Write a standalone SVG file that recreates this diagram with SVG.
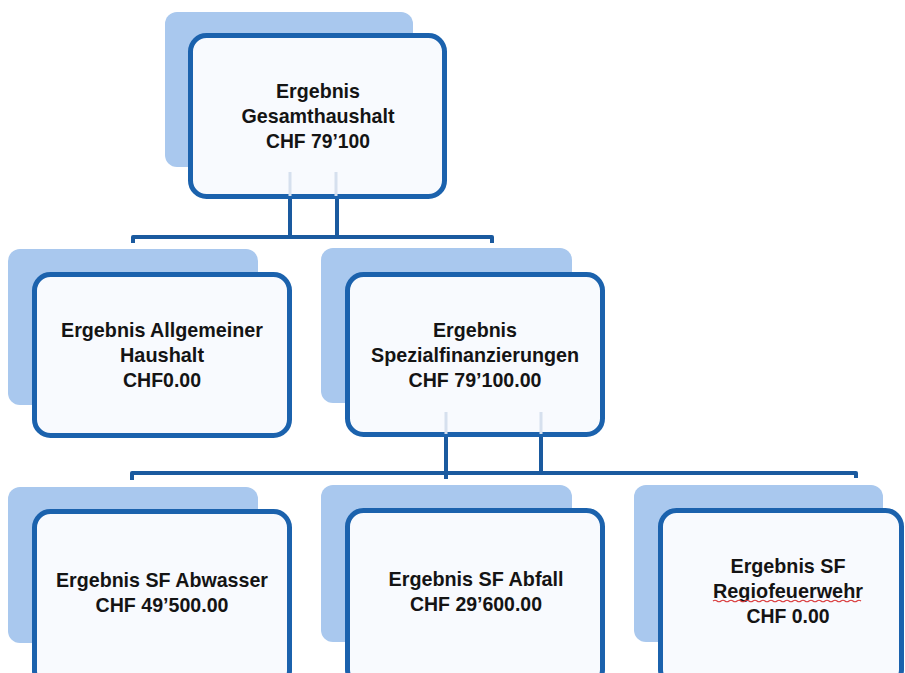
<svg xmlns="http://www.w3.org/2000/svg" width="905" height="673" viewBox="0 0 905 673">
<style>
.shadow{fill:#a9c8ee;}
.box{fill:#f8fafe;stroke:#1b62ad;stroke-width:5;}
.conn{fill:none;stroke:#1a5a9f;stroke-width:4;stroke-linejoin:round;}
.faint{stroke:#d6e0ee;stroke-width:3;}
text{font-family:"Liberation Sans",Arial,sans-serif;font-weight:bold;font-size:21px;fill:#141414;text-anchor:middle;}
</style>
<rect width="905" height="673" fill="#ffffff"/>
<g id="connectors">
<path class="conn" d="M290,199 V237 M337,199 V237 M133,243 V237 H492 V243"/>
<path class="conn" d="M446,437 V479 M541,437 V473 M132,480 V473 H856 V478"/>
</g>
<g id="n-gesamt">
<rect class="shadow" x="165" y="12" width="248" height="155" rx="12"/>
<rect class="box" x="190.5" y="35.5" width="254" height="161" rx="16"/>
<line class="faint" x1="290" y1="172" x2="290" y2="196"/>
<line class="faint" x1="336" y1="172" x2="336" y2="196"/>
<text x="318" y="98" textLength="84" lengthAdjust="spacingAndGlyphs">Ergebnis</text>
<text x="318" y="123" textLength="153" lengthAdjust="spacingAndGlyphs">Gesamthaushalt</text>
<text x="318" y="148" textLength="104" lengthAdjust="spacingAndGlyphs">CHF 79’100</text>
</g>
<g id="n-allgemein">
<rect class="shadow" x="8" y="249" width="250" height="156" rx="12"/>
<rect class="box" x="34.5" y="274.5" width="255" height="161" rx="16"/>
<text x="162" y="337" textLength="202" lengthAdjust="spacingAndGlyphs">Ergebnis Allgemeiner</text>
<text x="162" y="362" textLength="84" lengthAdjust="spacingAndGlyphs">Haushalt</text>
<text x="162" y="387" textLength="78" lengthAdjust="spacingAndGlyphs">CHF0.00</text>
</g>
<g id="n-spezial">
<rect class="shadow" x="321" y="248" width="251" height="155" rx="12"/>
<rect class="box" x="347.5" y="274.5" width="255" height="160" rx="16"/>
<line class="faint" x1="446" y1="412" x2="446" y2="434"/>
<line class="faint" x1="541" y1="412" x2="541" y2="434"/>
<text x="475" y="337" textLength="84" lengthAdjust="spacingAndGlyphs">Ergebnis</text>
<text x="475" y="362" textLength="208" lengthAdjust="spacingAndGlyphs">Spezialfinanzierungen</text>
<text x="475" y="387" textLength="133" lengthAdjust="spacingAndGlyphs">CHF 79’100.00</text>
</g>
<g id="n-abwasser">
<rect class="shadow" x="8" y="487" width="250" height="156" rx="12"/>
<rect class="box" x="34.5" y="511.5" width="255" height="175" rx="16"/>
<text x="162" y="587" textLength="212" lengthAdjust="spacingAndGlyphs">Ergebnis SF Abwasser</text>
<text x="162" y="612" textLength="133" lengthAdjust="spacingAndGlyphs">CHF 49’500.00</text>
</g>
<g id="n-abfall">
<rect class="shadow" x="321" y="485" width="251" height="157" rx="12"/>
<rect class="box" x="347.5" y="510.5" width="255" height="175" rx="16"/>
<text x="476" y="586" textLength="175" lengthAdjust="spacingAndGlyphs">Ergebnis SF Abfall</text>
<text x="476" y="611" textLength="132" lengthAdjust="spacingAndGlyphs">CHF 29’600.00</text>
</g>
<g id="n-regio">
<rect class="shadow" x="634" y="485" width="249" height="157" rx="12"/>
<rect class="box" x="660.5" y="510.5" width="241" height="175" rx="16"/>
<text x="788" y="573" textLength="115" lengthAdjust="spacingAndGlyphs">Ergebnis SF</text>
<text x="788" y="598" textLength="150" lengthAdjust="spacingAndGlyphs">Regiofeuerwehr</text>
<path d="M713,601 q2,-1.5 4,0 t4,0 t4,0 t4,0 t4,0 t4,0 t4,0 t4,0 t4,0 t4,0 t4,0 t4,0 t4,0 t4,0 t4,0 t4,0 t4,0 t4,0 t4,0 t4,0 t4,0 t4,0 t4,0 t4,0 t4,0 t4,0 t4,0 t4,0 t4,0 t4,0 t4,0 t4,0 t4,0 t4,0 t4,0 t4,0 t4,0" fill="none" stroke="#d9393b" stroke-width="1.2"/>
<text x="788" y="623" textLength="83" lengthAdjust="spacingAndGlyphs">CHF 0.00</text>
</g>
</svg>
